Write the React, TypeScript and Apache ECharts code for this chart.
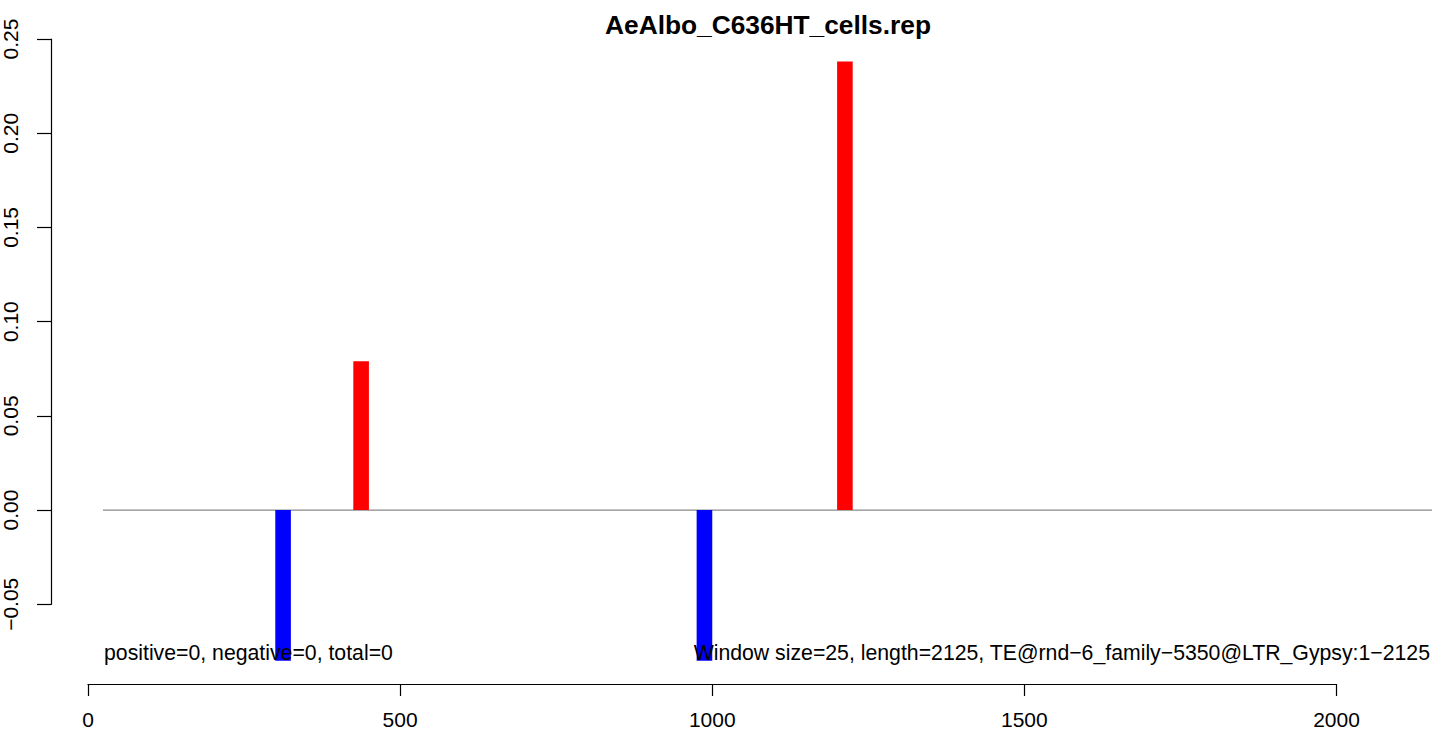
import React, { useEffect, useRef } from "react";
import * as echarts from "echarts";

const title = "AeAlbo_C636HT_cells.rep";
const windowSize = 25;
// window start positions and values
const plusStarts = [425, 1200];
const plusValues = [0.079, 0.238];
const minusStarts = [300, 975];
const minusValues = [-0.08, -0.08];
const xTicks = [0, 500, 1000, 1500, 2000];
const yTicks = [-0.05, 0, 0.05, 0.1, 0.15, 0.2, 0.25];
const zeroLineRange = [24, 2153];
const leftNote = "positive=0, negative=0, total=0";
const rightNote = "Window size=25, length=2125, TE@rnd\u22126_family\u22125350@LTR_Gypsy:1\u22122125";

const FONT = "'Liberation Sans', Arial, Helvetica, sans-serif";

export default function App() {
  const ref = useRef<HTMLDivElement>(null);
  useEffect(() => {
    if (!ref.current) return;
    const chart = echarts.init(ref.current, null, { renderer: "svg" });
    const rectItem = (color: string) => (params: any, api: any) => {
      const x0 = api.value(0);
      const v = api.value(1);
      const p0 = api.coord([x0, 0]);
      const p1 = api.coord([x0 + windowSize, v]);
      return {
        type: "rect",
        shape: {
          x: p0[0],
          y: Math.min(p0[1], p1[1]),
          width: p1[0] - p0[0],
          height: Math.abs(p1[1] - p0[1]),
        },
        style: { fill: color },
      };
    };
    const xMax = xTicks[xTicks.length - 1];
    const pxPerUnit = (1439 - 88 - 102.5) / xMax;
    const grid2Right = 1439 - 88 - zeroLineRange[1] * pxPerUnit;
    chart.setOption({
      animation: false,
      backgroundColor: "#ffffff",
      textStyle: { fontFamily: FONT },
      grid: [
        { left: 88, right: 102.5, top: 39, bottom: 129.7 },
        { left: 88, right: grid2Right, top: 39, bottom: 129.7 },
      ],
      xAxis: [
        {
          type: "value",
          gridIndex: 0,
          min: xTicks[0],
          max: xMax,
          interval: 500,
          offset: 79.7,
          position: "bottom",
          axisLine: { show: true, onZero: false, lineStyle: { color: "#000", width: 1.2 } },
          axisTick: { show: true, length: 12, lineStyle: { color: "#000", width: 1.2 } },
          axisLabel: {
            fontSize: 21,
            color: "#000",
            margin: 25,
            fontFamily: FONT,
            showMinLabel: true,
            showMaxLabel: true,
            formatter: (v: number) => String(v),
          },
          splitLine: { show: false },
        },
        {
          type: "value",
          gridIndex: 1,
          min: 0,
          max: zeroLineRange[1],
          show: false,
        },
      ],
      yAxis: [
        {
          type: "value",
          gridIndex: 0,
          min: yTicks[0],
          max: yTicks[yTicks.length - 1],
          interval: 0.05,
          offset: 37,
          position: "left",
          axisLine: { show: true, onZero: false, lineStyle: { color: "#000", width: 1.2 } },
          axisTick: { show: true, length: 14, lineStyle: { color: "#000", width: 1.2 } },
          axisLabel: {
            fontSize: 21,
            color: "#000",
            rotate: 90,
            margin: 30,
            fontFamily: FONT,
            formatter: (v: number) => v.toFixed(2).replace("-", "\u2212"),
          },
          splitLine: { show: false },
        },
        {
          type: "value",
          gridIndex: 1,
          min: yTicks[0],
          max: yTicks[yTicks.length - 1],
          show: false,
        },
      ],
      series: [
        {
          type: "line",
          xAxisIndex: 1,
          yAxisIndex: 1,
          data: zeroLineRange.map((x) => [x, 0]),
          symbol: "none",
          clip: false,
          lineStyle: { color: "#8a8a8a", width: 1.2 },
          z: 1,
        },
        {
          type: "custom",
          clip: false,
          renderItem: rectItem("#ff0000"),
          data: plusStarts.map((s, i) => [s, plusValues[i]]),
          z: 2,
        },
        {
          type: "custom",
          clip: false,
          renderItem: rectItem("#0000ff"),
          data: minusStarts.map((s, i) => [s, minusValues[i]]),
          z: 2,
        },
      ],
      graphic: [
        {
          type: "text",
          x: 768,
          y: 25,
          style: {
            text: title,
            font: `bold 26.3px ${FONT}`,
            fill: "#000",
            textAlign: "center",
            textVerticalAlign: "middle",
          },
        },
        {
          type: "text",
          x: 104,
          y: 653,
          z: 10,
          style: {
            text: leftNote,
            font: `21.25px ${FONT}`,
            fill: "#000",
            textAlign: "left",
            textVerticalAlign: "middle",
          },
        },
        {
          type: "text",
          x: 1430,
          y: 653,
          z: 10,
          style: {
            text: rightNote,
            font: `21.25px ${FONT}`,
            fill: "#000",
            textAlign: "right",
            textVerticalAlign: "middle",
          },
        },
      ],
    });
    return () => chart.dispose();
  }, []);
  return (
    <div
      ref={ref}
      style={{ position: "absolute", left: 0, top: 0, width: 1439, height: 734, background: "#fff" }}
    />
  );
}
